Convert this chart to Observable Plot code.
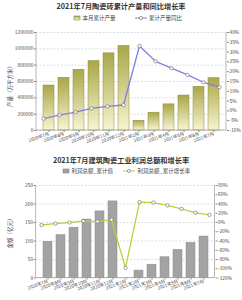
<!DOCTYPE html>
<html><head><meta charset="utf-8">
<script src="https://cdn.jsdelivr.net/npm/d3@7"></script>
<script src="https://cdn.jsdelivr.net/npm/@observablehq/plot@0.6"></script>
<style>
body{margin:0;background:#fff;font-family:"Noto Sans CJK SC","Noto Sans",sans-serif;}
#root{position:relative;width:242px;height:300px;overflow:hidden;background:#fff;}
.abs{position:absolute;}
.title{left:0;width:242px;text-align:center;font-size:7.2px;font-weight:bold;color:#333;line-height:10px;white-space:nowrap;}
.legend{font-size:5.5px;color:#444;line-height:8px;white-space:nowrap;display:flex;align-items:center;}
.legend svg{display:block;}
.ylab{font-size:5.5px;color:#444;width:80px;text-align:center;line-height:8px;transform:rotate(-90deg);white-space:nowrap;}
</style></head>
<body><div id="root"></div>
<script>
// ---- data: chart 1 ----
const months1 = ["2020年7月","2020年8月","2020年9月","2020年10月","2020年11月","2020年12月","2021年2月","2021年3月","2021年4月","2021年5月","2021年6月","2021年7月"];
const output1 = [551000,646000,744000,850000,945000,1035000,120000,218000,320000,428000,535000,641000];
const growth1 = [-3.9,-2.1,-0.6,1.3,2.3,3.0,33.1,25.3,21.8,18.4,14.6,12.1];
const ticksL1 = [0,200000,400000,600000,800000,1000000,1200000];
const ticksR1 = [-10,-5,0,5,10,15,20,25,30,35,40];
const title1 = "2021年7月陶瓷砖累计产量和同比增长率";
const legend1 = ["本月累计产量","累计产量同比"];
const ylabel1 = "产量（万平方米）";
// ---- data: chart 2 ----
const months2 = ["2020年7月","2020年8月","2020年9月","2020年10月","2020年11月","2020年12月","2021年1月","2021年2月","2021年3月","2021年4月","2021年5月","2021年6月","2021年7月"];
const profit2 = [98,116,136,158,180,207,null,20,36,56,76,95,112];
const growth2 = [-5.4,-2.6,0,3,2.3,6,-98,44,43,37,29.5,21,16.6];
const ticksL2 = [0,50,100,150,200,250];
const ticksR2 = [-120,-100,-80,-60,-40,-20,0,20,40,60,80];
const title2 = "2021年7月建筑陶瓷工业利润总额和增长率";
const legend2 = ["利润总额_累计值","利润总额_累计增长率"];
const ylabel2 = "金额（亿元）";

const root = document.getElementById("root");
const FONT = '"Noto Sans CJK SC","Noto Sans",sans-serif';

function sideLines(sides){
  return (index, scales, values, dims) => {
    const {width,height,marginLeft,marginRight,marginTop,marginBottom} = dims;
    const g = d3.create("svg:g").attr("stroke","#9a9a9a").attr("stroke-width",0.7);
    const x0 = marginLeft, x1 = width - marginRight, y0 = marginTop, y1 = height - marginBottom;
    if (sides.includes("left")) g.append("line").attr("x1",x0).attr("x2",x0).attr("y1",y0).attr("y2",y1);
    if (sides.includes("right")) g.append("line").attr("x1",x1).attr("x2",x1).attr("y1",y0).attr("y2",y1);
    if (sides.includes("bottom")) g.append("line").attr("x1",x0).attr("x2",x1).attr("y1",y1).attr("y2",y1);
    return g.node();
  };
}

function addDiv(cls, css, html){
  const d = document.createElement("div");
  d.className = "abs " + cls;
  Object.assign(d.style, css);
  d.innerHTML = html;
  root.appendChild(d);
  return d;
}

function makeChart(cfg){
  const {top, height, mt, mb, ml, mr, months, bars, line, ticksL, ticksR, domL, domR,
         barFill, barStroke, lineColor, gradId} = cfg;
  const rows = months.map((m,i)=>({m, v:bars[i], g:line[i]}));
  const common = {width:242, height, marginTop:mt, marginBottom:mb, marginLeft:ml, marginRight:mr};
  const style = {fontFamily:FONT, fontSize:"4.8px", color:"#444", background:"transparent", overflow:"visible"};
  const A = Plot.plot({
    ...common, style,
    x:{domain:months, padding:0.3, label:null},
    y:{domain:domL, label:null},
    marks:[
      Plot.gridY(ticksL, {stroke:"#c8c8c8", strokeOpacity:1, strokeWidth:0.6, strokeDasharray:"2,1.5"}),
      Plot.barY(rows, {x:"m", y:"v", fill:barFill, stroke:barStroke, strokeWidth:0.5}),
      Plot.axisY(ticksL, {anchor:"left", tickSize:2, tickPadding:1, tickFormat:d=>String(d), label:null, stroke:"#888"}),
      Plot.axisX({tickRotate:-20, tickSize:2, tickPadding:1, fontSize:4.5, label:null, stroke:"#888"}),
      sideLines(["left","right","bottom"])
    ]
  });
  if (gradId){
    const defs = d3.select(A).insert("defs", ":first-child");
    const lg = defs.append("linearGradient").attr("id",gradId).attr("x1",0).attr("y1",0).attr("x2",0).attr("y2",1);
    lg.append("stop").attr("offset","0%").attr("stop-color","#aaa649");
    lg.append("stop").attr("offset","100%").attr("stop-color","#f6f5d0");
  }
  const B = Plot.plot({
    ...common, style,
    x:{domain:months, padding:0.3, axis:null},
    y:{domain:domR, label:null},
    marks:[
      Plot.lineY(rows, {x:"m", y:"g", stroke:lineColor, strokeWidth:1.3}),
      Plot.dot(rows, {x:"m", y:"g", r:1.7, fill:"white", stroke:"#666", strokeWidth:0.6}),
      Plot.axisY(ticksR, {anchor:"right", tickSize:2, tickPadding:1, tickFormat:d=>d+"%", label:null, stroke:"#888"})
    ]
  });
  for (const s of [A,B]){
    s.style.position = "absolute"; s.style.left = "0px"; s.style.top = top + "px";
    root.appendChild(s);
  }
}

// titles & legends
addDiv("title", {top:"0.5px"}, title1);
addDiv("legend", {left:"73px", top:"13.5px"},
  `<svg width="8" height="6"><defs><linearGradient id="lgA" x1="0" y1="0" x2="0" y2="1"><stop offset="0" stop-color="#aaa649"/><stop offset="1" stop-color="#f6f5d0"/></linearGradient></defs><rect x="1" y="1" width="6" height="4" fill="url(#lgA)" stroke="#8e8c3c" stroke-width="0.6"/></svg>
   <span style="margin-left:1.5px">${legend1[0]}</span>
   <svg width="14" height="6" style="margin-left:18px"><line x1="1" x2="13" y1="3" y2="3" stroke="#8080dc" stroke-width="1"/><circle cx="7" cy="3" r="1.6" fill="white" stroke="#666" stroke-width="0.6"/></svg>
   <span style="margin-left:1.5px">${legend1[1]}</span>`);
addDiv("ylab", {left:(10-40)+"px", top:(85-4)+"px"}, ylabel1);

addDiv("title", {top:"155px"}, title2);
addDiv("legend", {left:"62px", top:"167px"},
  `<svg width="8" height="6"><rect x="1" y="1" width="6" height="4" fill="#a3a3a3" stroke="#808080" stroke-width="0.6"/></svg>
   <span style="margin-left:1.5px">${legend2[0]}</span>
   <svg width="14" height="6" style="margin-left:9px"><line x1="1" x2="13" y1="3" y2="3" stroke="#b5d43a" stroke-width="1"/><circle cx="7" cy="3" r="1.6" fill="white" stroke="#666" stroke-width="0.6"/></svg>
   <span style="margin-left:1.5px">${legend2[1]}</span>`);
addDiv("ylab", {left:(10-40)+"px", top:(232-4)+"px"}, ylabel2);

makeChart({top:20, height:135, mt:12, mb:25, ml:36, mr:16,
  months:months1, bars:output1, line:growth1, ticksL:ticksL1, ticksR:ticksR1,
  domL:[0,1200000], domR:[-10,40], barFill:"url(#gradTop)", barStroke:"#8e8c3c",
  lineColor:"#8080dc", gradId:"gradTop"});

makeChart({top:175, height:125, mt:10, mb:22.5, ml:35.6, mr:27.5,
  months:months2, bars:profit2, line:growth2, ticksL:ticksL2, ticksR:ticksR2,
  domL:[0,250], domR:[-120,80], barFill:"#a3a3a3", barStroke:"#8c8c8c",
  lineColor:"#b5d43a", gradId:null});
</script></body></html>
